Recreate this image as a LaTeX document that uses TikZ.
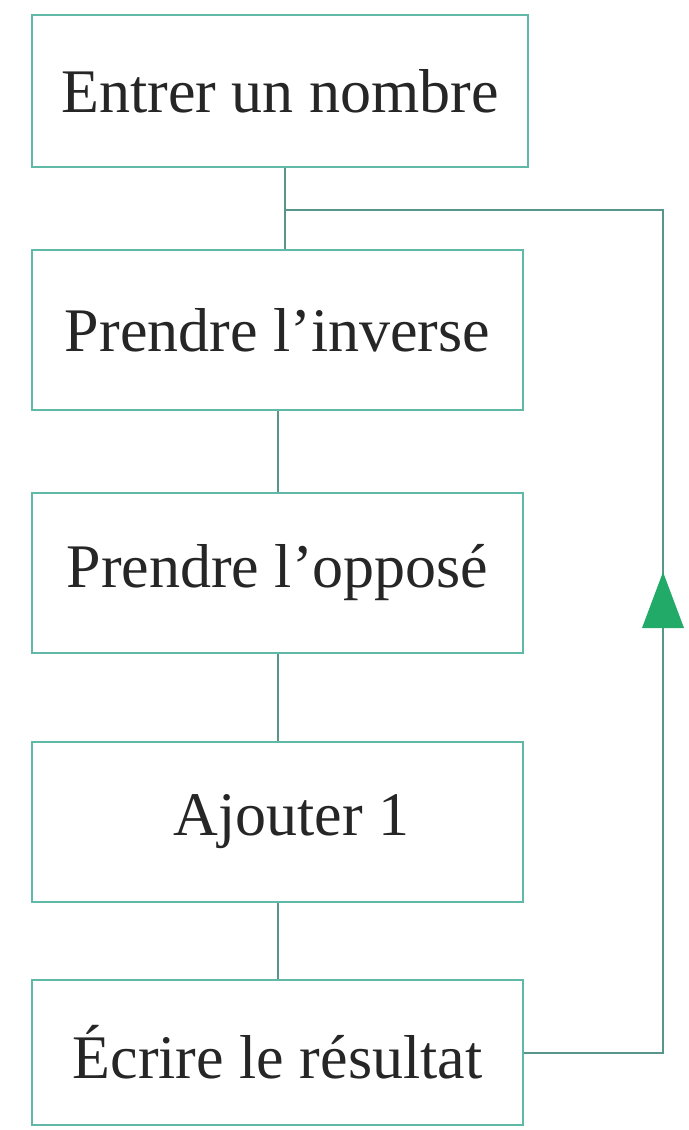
\documentclass[tikz,border=0pt]{standalone}
\usepackage{fontspec}
\setmainfont{Liberation Serif}
\usepackage{tikz}

\definecolor{boxteal}{RGB}{96,184,166}
\definecolor{lineteal}{RGB}{88,150,140}
\definecolor{arrowgreen}{RGB}{34,170,104}

\tikzset{
  etape/.style={draw=boxteal, line width=1pt, fill=white, inner sep=0pt,
    minimum width=245.5pt, minimum height=80pt,
    font=\fontsize{31}{37}\selectfont, text=black!85},
  lien/.style={draw=lineteal, line width=1pt}
}

\begin{document}
\begin{tikzpicture}[x=0.5pt,y=0.5pt,yscale=-1,xscale=1]
\useasboundingbox (0,0) rectangle (689,1130);

%Shape: Rectangle [Entrer]
\node [etape, minimum width=248pt, minimum height=76pt] (entrer) at (280,91) {Entrer un nombre};
%Shape: Rectangle [Inverse]
\node [etape] (inverse) at (277.5,330) {Prendre l’inverse};
%Shape: Rectangle [Oppose]
\node [etape] (oppose) at (277.5,573) {Prendre l’opposé};
%Shape: Rectangle [Ajouter]
\node [etape] (ajouter) at (277.5,822) {\hspace{14pt}Ajouter 1};
%Shape: Rectangle [Ecrire]
\node [etape, minimum height=72.5pt] (ecrire) at (277.5,1052.5) {Écrire le résultat};

% jonction de la boucle
\coordinate (jonction) at (285,210);
\coordinate (coin) at (663,210);
\coordinate (pointe) at (663,572);

%Straight Lines
\draw [lien] (entrer.south -| jonction) -- (inverse.north -| jonction);
\draw [lien] (inverse.south) -- (oppose.north);
\draw [lien] (oppose.south) -- (ajouter.north);
\draw [lien] (ajouter.south) -- (ecrire.north);
%Straight Lines [boucle]
\draw [lien] (ecrire.east) -| (coin) -- (jonction);

%Shape: Triangle [fleche]
\fill [arrowgreen] (pointe) -- ++(-21,56) -- ++(42,0) -- cycle;

\end{tikzpicture}
\end{document}
